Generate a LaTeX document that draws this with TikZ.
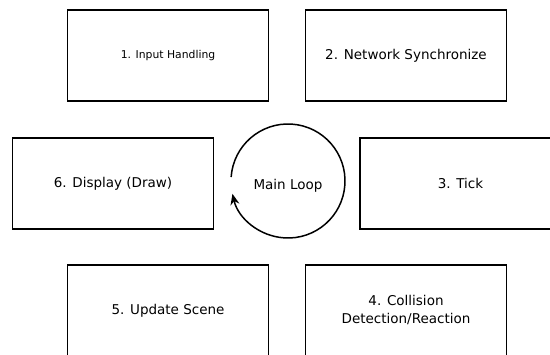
\documentclass[tikz,border=0pt]{standalone}
\usepackage{fontspec}
\setmainfont{DejaVu Sans}
\usetikzlibrary{arrows.meta}
\begin{document}
\begin{tikzpicture}[x=1pt,y=-1pt,
  stepbox/.style={draw=black, line width=1.5pt, minimum width=201pt, minimum height=91pt,
    inner sep=0pt, align=center, font=\fontsize{13.5}{18}\selectfont},
  smalltext/.style={font=\fontsize{10.8}{14}\selectfont}]
\useasboundingbox (0,0) rectangle (550,355);
\begin{scope}
\clip (0,0) rectangle (550,355);
\node[stepbox, smalltext] (s1) at (168,55.5) {1. Input Handling};
\node[stepbox] (s2) at (406,55.5) {2. Network Synchronize};
\node[stepbox] (s3) at (460.5,183.5) {3. Tick};
\node[stepbox] (s4) at (406,310.5) {4. Collision\\Detection/Reaction};
\node[stepbox] (s5) at (168,310.5) {5. Update Scene};
\node[stepbox] (s6) at (113,183.5) {6. Display (Draw)};
\node[font=\fontsize{13.5}{16}\selectfont] (loop) at (288,186) {Main Loop};
\coordinate (c) at (288,181);
\draw[line width=1.5pt, -{Stealth[length=11pt,width=9pt]}] (c) ++(184:57) arc[start angle=184, end angle=527, radius=57];
\end{scope}
\end{tikzpicture}
\end{document}
